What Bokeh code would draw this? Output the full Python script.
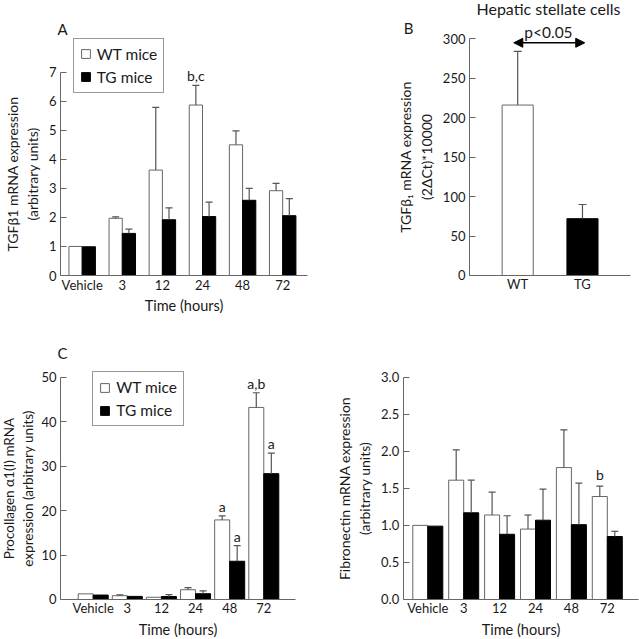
from bokeh.plotting import figure
from bokeh.models import (Range1d, FixedTicker, ColumnDataSource, Whisker, TeeHead,
                          Legend, LegendItem, Label, Arrow, NormalHead, NumeralTickFormatter)
from bokeh.layouts import column, row
from bokeh.embed import file_html
from bokeh.resources import INLINE

# ---------------- data ----------------
time_labels = ["Vehicle", "3", "12", "24", "48", "72"]

# Panel A: TGFb1 mRNA (arbitrary units)
tgf_wt = [1.0, 1.97, 3.63, 5.87, 4.50, 2.92]
tgf_wt_err = [None, 2.02, 5.79, 6.55, 4.98, 3.17]
tgf_tg = [0.99, 1.45, 1.92, 2.03, 2.59, 2.06]
tgf_tg_err = [None, 1.60, 2.33, 2.53, 3.00, 2.65]

# Panel B: hepatic stellate cells
hsc_labels = ["WT", "TG"]
hsc_vals = [216, 72]
hsc_err = [284, 90]

# Panel C: procollagen a1(I)
col_wt = [1.27, 0.85, 0.50, 2.20, 17.9, 43.2]
col_wt_err = [None, 1.05, None, 2.65, 18.8, 46.5]
col_tg = [1.00, 0.70, 0.67, 1.30, 8.6, 28.3]
col_tg_err = [None, None, 1.10, 1.95, 12.1, 32.9]

# Panel D: fibronectin
fib_wt = [1.00, 1.61, 1.14, 0.95, 1.78, 1.39]
fib_wt_err = [None, 2.02, 1.45, 1.14, 2.29, 1.53]
fib_tg = [0.99, 1.17, 0.88, 1.07, 1.01, 0.85]
fib_tg_err = [None, 1.61, 1.13, 1.49, 1.57, 0.92]

FONT = "Lato"
TXT = "#1a1a1a"
GRAY = "#666666"
WGRAY = "#555555"


def make_fig(width, height, xr, yr, yaxis_x, xbounds, ybounds, yticks, ticks, labels, ytitle, xtitle):
    p = figure(width=width, height=height, x_range=Range1d(*xr), y_range=Range1d(*yr),
               output_backend="svg", toolbar_location=None,
               min_border_left=0, min_border_right=0, min_border_top=0, min_border_bottom=0)
    p.outline_line_color = None
    p.grid.visible = False
    p.background_fill_color = "white"
    p.border_fill_color = "white"
    for ax in (p.xaxis[0], p.yaxis[0]):
        ax.axis_line_color = GRAY
        ax.axis_line_width = 1
        ax.minor_tick_line_color = None
        ax.major_tick_out = 0
        ax.major_label_text_font = FONT
        ax.major_label_text_font_size = "13px"
        ax.major_label_text_color = TXT
        ax.axis_label_text_font = FONT
        ax.axis_label_text_font_style = "normal"
        ax.axis_label_text_color = TXT
    xa = p.xaxis[0]
    xa.fixed_location = 0
    xa.bounds = xbounds
    xa.ticker = FixedTicker(ticks=ticks)
    xa.major_label_overrides = {t: l for t, l in zip(ticks, labels)}
    xa.major_tick_line_color = None
    xa.major_tick_in = 0
    xa.major_label_standoff = 1
    if xtitle:
        xa.axis_label = xtitle
    xa.axis_label_text_font_size = "14.5px"
    xa.axis_label_standoff = 1
    ya = p.yaxis[0]
    ya.fixed_location = yaxis_x
    ya.bounds = ybounds
    ya.ticker = FixedTicker(ticks=yticks)
    ya.major_tick_in = 6
    ya.major_tick_line_color = GRAY
    ya.major_label_standoff = 4
    ya.axis_label = ytitle
    ya.axis_label_text_font_size = "14px"
    ya.axis_label_standoff = 5
    return p


def bars(p, vals, errs, w, offset, fill, line):
    n = len(vals)
    xs = [i + offset for i in range(n)]
    r = p.vbar(x=xs, top=vals, bottom=0, width=w, fill_color=fill, line_color=line, line_width=1)
    ex = [x for x, e in zip(xs, errs) if e is not None]
    lo = [v for v, e in zip(vals, errs) if e is not None]
    up = [e for e in errs if e is not None]
    src = ColumnDataSource(data=dict(x=ex, lower=lo, upper=up))
    wk = Whisker(source=src, base="x", lower="lower", upper="upper", dimension="height",
                 line_color=WGRAY, line_width=1.2, lower_head=None,
                 upper_head=TeeHead(size=7, line_color=WGRAY, line_width=1.2), level="overlay")
    p.add_layout(wk)
    return r


def label(p, x, y, text, size="14px", align="center"):
    p.add_layout(Label(x=x, y=y, text=text, text_align=align, text_baseline="middle",
                       text_font=FONT, text_font_size=size, text_color=TXT))


def legend(p, r1, r2, loc):
    lg = Legend(items=[LegendItem(label="WT mice", renderers=[r1]),
                       LegendItem(label="TG mice", renderers=[r2])],
                location=loc, orientation="vertical",
                label_text_font=FONT, label_text_font_size="15.5px", label_text_color=TXT,
                label_height=16, glyph_width=11, glyph_height=11, label_standoff=6,
                padding=6, spacing=5, margin=0,
                border_line_color="#333333", border_line_width=1,
                background_fill_color="white", background_fill_alpha=1)
    p.add_layout(lg)


idx = list(range(len(time_labels)))

# ---------------- Panel A ----------------
wA = 0.33
pA = make_fig(320, 320, (-2.037, 5.943), (-1.5496, 9.470), -0.541, (-0.541, 5.611), (0, 7),
              [0, 1, 2, 3, 4, 5, 6, 7], idx, time_labels,
              "TGFβ1 mRNA expression\n(arbitrary units)", "Time (hours)")
rA1 = bars(pA, tgf_wt, tgf_wt_err, wA, -wA / 2, "white", GRAY)
rA2 = bars(pA, tgf_tg, tgf_tg_err, wA, wA / 2, "black", "black")
legend(pA, rA1, rA2, (72.7, 227.3))
label(pA, 3 - wA / 2, 6.887, "b,c", "14px")
label(pA, -0.491, 8.505, "A", "15px")

# ---------------- Panel B ----------------
wB = 0.48
pB = make_fig(319, 320, (-3.043, 1.880), (-57.03, 348.5), -0.744, (-0.744, 1.741), (0, 300),
              [0, 50, 100, 150, 200, 250, 300], [0, 1], hsc_labels,
              "TGFβ₁ mRNA expression\n(2ΔCt)*10000", None)
hsc_x = list(range(len(hsc_labels)))
pB.vbar(x=hsc_x[:1], top=hsc_vals[:1], bottom=0, width=wB, fill_color="white", line_color=GRAY)
pB.vbar(x=hsc_x[1:], top=hsc_vals[1:], bottom=0, width=wB, fill_color="black", line_color="black")
srcB = ColumnDataSource(data=dict(x=hsc_x, lower=hsc_vals, upper=hsc_err))
pB.add_layout(Whisker(source=srcB, base="x", lower="lower", upper="upper", dimension="height",
                      line_color=WGRAY, line_width=1.2, lower_head=None,
                      upper_head=TeeHead(size=8, line_color=WGRAY, line_width=1.2), level="overlay"))
pB.add_layout(Arrow(start=NormalHead(size=9, fill_color="black", line_color="black"),
                    end=NormalHead(size=9, fill_color="black", line_color="black"),
                    x_start=-0.06, y_start=294.9, x_end=1.035, y_end=294.9,
                    line_color="black", line_width=1.5))
label(pB, 0.475, 308.5, "p<0.05", "15.5px")
label(pB, 0.475, 338.5, "Hepatic stellate cells", "16px")
label(pB, -1.685, 313.6, "B", "15px")

# ---------------- Panel C ----------------
wC = 0.44
pC = make_fig(320, 319, (-2.717, 6.662), (-8.997, 62.75), -0.958, (-0.958, 5.929), (0, 50),
              [0, 10, 20, 30, 40, 50], idx, time_labels,
              "Procollagen α1(I) mRNA\nexpression (arbitrary units)", "Time (hours)")
pC.yaxis[0].axis_label_standoff = 2
pC.yaxis[0].axis_label_text_font_size = "13.5px"
rC1 = bars(pC, col_wt, col_wt_err, wC, -wC / 2, "white", GRAY)
rC2 = bars(pC, col_tg, col_tg_err, wC, wC / 2, "black", "black")
legend(pC, rC1, rC2, (92.3, 213))
label(pC, 4 - wC / 2, 20.9, "a")
label(pC, 4 + wC / 2, 14.2, "a")
label(pC, 5 - wC / 2, 48.5, "a,b")
label(pC, 5 + wC / 2, 35.0, "a")
label(pC, -0.9, 55.33, "C", "15px")

# ---------------- Panel D ----------------
wD = 0.418
pD = make_fig(319, 319, (-2.989, 5.897), (-0.540, 3.765), -0.685, (-0.685, 5.869), (0, 3),
              [0, 0.5, 1.0, 1.5, 2.0, 2.5, 3.0], idx, time_labels,
              "Fibronectin mRNA expression\n(arbitrary units)", "Time (hours)")
pD.yaxis[0].formatter = NumeralTickFormatter(format="0.0")
bars(pD, fib_wt, fib_wt_err, wD, -wD / 2, "white", GRAY)
bars(pD, fib_tg, fib_tg_err, wD, wD / 2, "black", "black")
label(pD, 5 - wD / 2, 1.68, "b")

layout = column(row(pA, pB), row(pC, pD))
open("out.html", "w").write(file_html(layout, INLINE))
